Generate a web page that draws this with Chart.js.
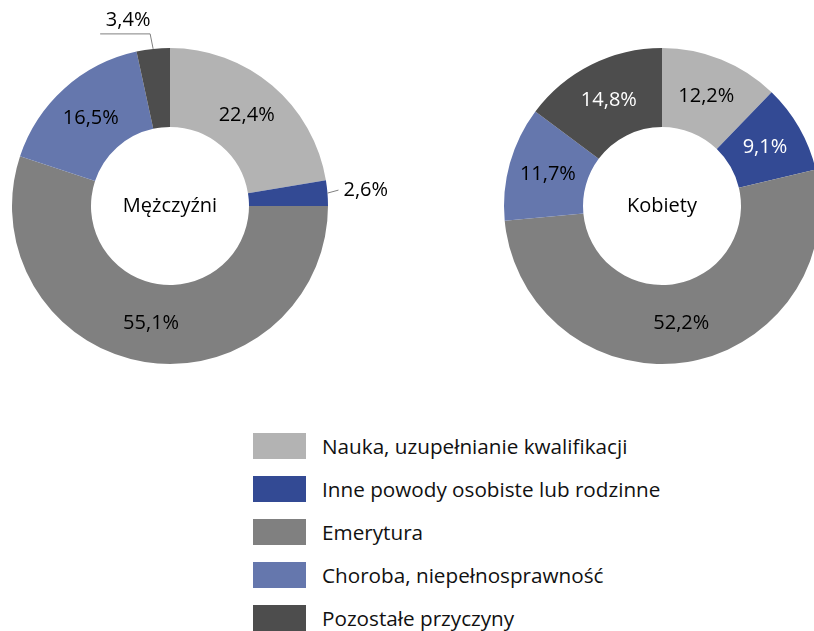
<!DOCTYPE html>
<html>
<head>
<meta charset="utf-8">
<script src="https://cdn.jsdelivr.net/npm/chart.js@4.4.1/dist/chart.umd.min.js"></script>
<style>
html, body { margin: 0; padding: 0; background: #fff; overflow: hidden; width: 814px; height: 631px; }
body { position: relative; font-family: 'Open Sans', sans-serif; }
#men { position: absolute; left: 0; top: 0; }
#women { position: absolute; left: 420px; top: 0; }
#legend { position: absolute; left: 253px; top: 433px; }
.row { display: flex; align-items: center; height: 26px; margin-bottom: 17px; }
.box { width: 53px; height: 26px; margin-right: 16px; }
.row span { font-size: 20.7px; color: #111; }
</style>
</head>
<body>
<canvas id="men" width="420" height="400"></canvas>
<canvas id="women" width="400" height="400"></canvas>
<div id="legend"></div>
<script>
const reasons = ['Nauka, uzupełnianie kwalifikacji', 'Inne powody osobiste lub rodzinne', 'Emerytura', 'Choroba, niepełnosprawność', 'Pozostałe przyczyny']
const men = [22.4, 2.6, 55.1, 16.5, 3.4]
const women = [12.2, 9.1, 52.2, 11.7, 14.8]
const colors = ['#b3b3b3', '#334a94', '#808080', '#6577ad', '#4d4d4d']

const fmt = v => v.toFixed(1).replace('.', ',') + '%'

// labels on the slices, or outside with a leader line for small ones
const sliceLabels = {
  id: 'sliceLabels',
  afterDatasetsDraw(chart, args, opts) {
    const ctx = chart.ctx
    const ds = chart.data.datasets[0]
    const meta = chart.getDatasetMeta(0)
    ctx.save()
    ctx.font = '20px "Open Sans"'
    ctx.textBaseline = 'middle'
    meta.data.forEach((arc, i) => {
      const p = arc.getProps(['x', 'y', 'startAngle', 'endAngle', 'innerRadius', 'outerRadius'], true)
      const mid = (p.startAngle + p.endAngle) / 2
      const text = fmt(ds.data[i])
      ctx.fillStyle = opts.textColors[i]
      if (opts.outside.includes(i)) {
        const ex = p.x + Math.cos(mid) * p.outerRadius
        const ey = p.y + Math.sin(mid) * p.outerRadius
        ctx.strokeStyle = '#808080'
        ctx.lineWidth = 1
        ctx.beginPath()
        ctx.fillStyle = '#000'
        if (Math.cos(mid) > 0.5) {
          ctx.moveTo(ex, ey)
          ctx.lineTo(ex + 11, ey - 3)
          ctx.stroke()
          ctx.textAlign = 'left'
          ctx.fillText(text, ex + 16, ey - 3)
        } else {
          ctx.moveTo(ex, ey)
          ctx.lineTo(ex - 3, ey - 15)
          ctx.lineTo(ex - 53, ey - 15)
          ctx.stroke()
          ctx.textAlign = 'center'
          ctx.fillText(text, ex - 25, ey - 29)
        }
      } else {
        const r = (p.innerRadius + p.outerRadius) / 2
        ctx.textAlign = 'center'
        ctx.fillText(text, p.x + Math.cos(mid) * r, p.y + Math.sin(mid) * r)
      }
    })
    ctx.fillStyle = '#000'
    ctx.textAlign = 'center'
    ctx.fillText(opts.title, meta.data[0].x, meta.data[0].y)
    ctx.restore()
  }
}

function donut(id, values, title, padding, textColors, outside) {
  return new Chart(document.getElementById(id), {
    type: 'doughnut',
    data: {
      labels: reasons,
      datasets: [{
        data: values,
        backgroundColor: colors,
        borderWidth: 0
      }]
    },
    options: {
      responsive: false,
      animation: false,
      cutout: '50%',
      layout: { padding: padding },
      plugins: {
        legend: { display: false },
        tooltip: { enabled: false },
        sliceLabels: { title: title, textColors: textColors, outside: outside }
      }
    },
    plugins: [sliceLabels]
  })
}

donut('men', men, 'Mężczyźni', { left: 12, top: 48, right: 92, bottom: 36 },
  ['#000', '#000', '#000', '#000', '#000'], [1, 4])
donut('women', women, 'Kobiety', { left: 84, top: 48, right: 0, bottom: 36 },
  ['#000', '#fff', '#000', '#000', '#fff'], [])

const legend = document.getElementById('legend')
reasons.forEach((r, i) => {
  const row = document.createElement('div')
  row.className = 'row'
  row.innerHTML = '<div class="box" style="background:' + colors[i] + '"></div><span>' + r + '</span>'
  legend.appendChild(row)
})
</script>
</body>
</html>
